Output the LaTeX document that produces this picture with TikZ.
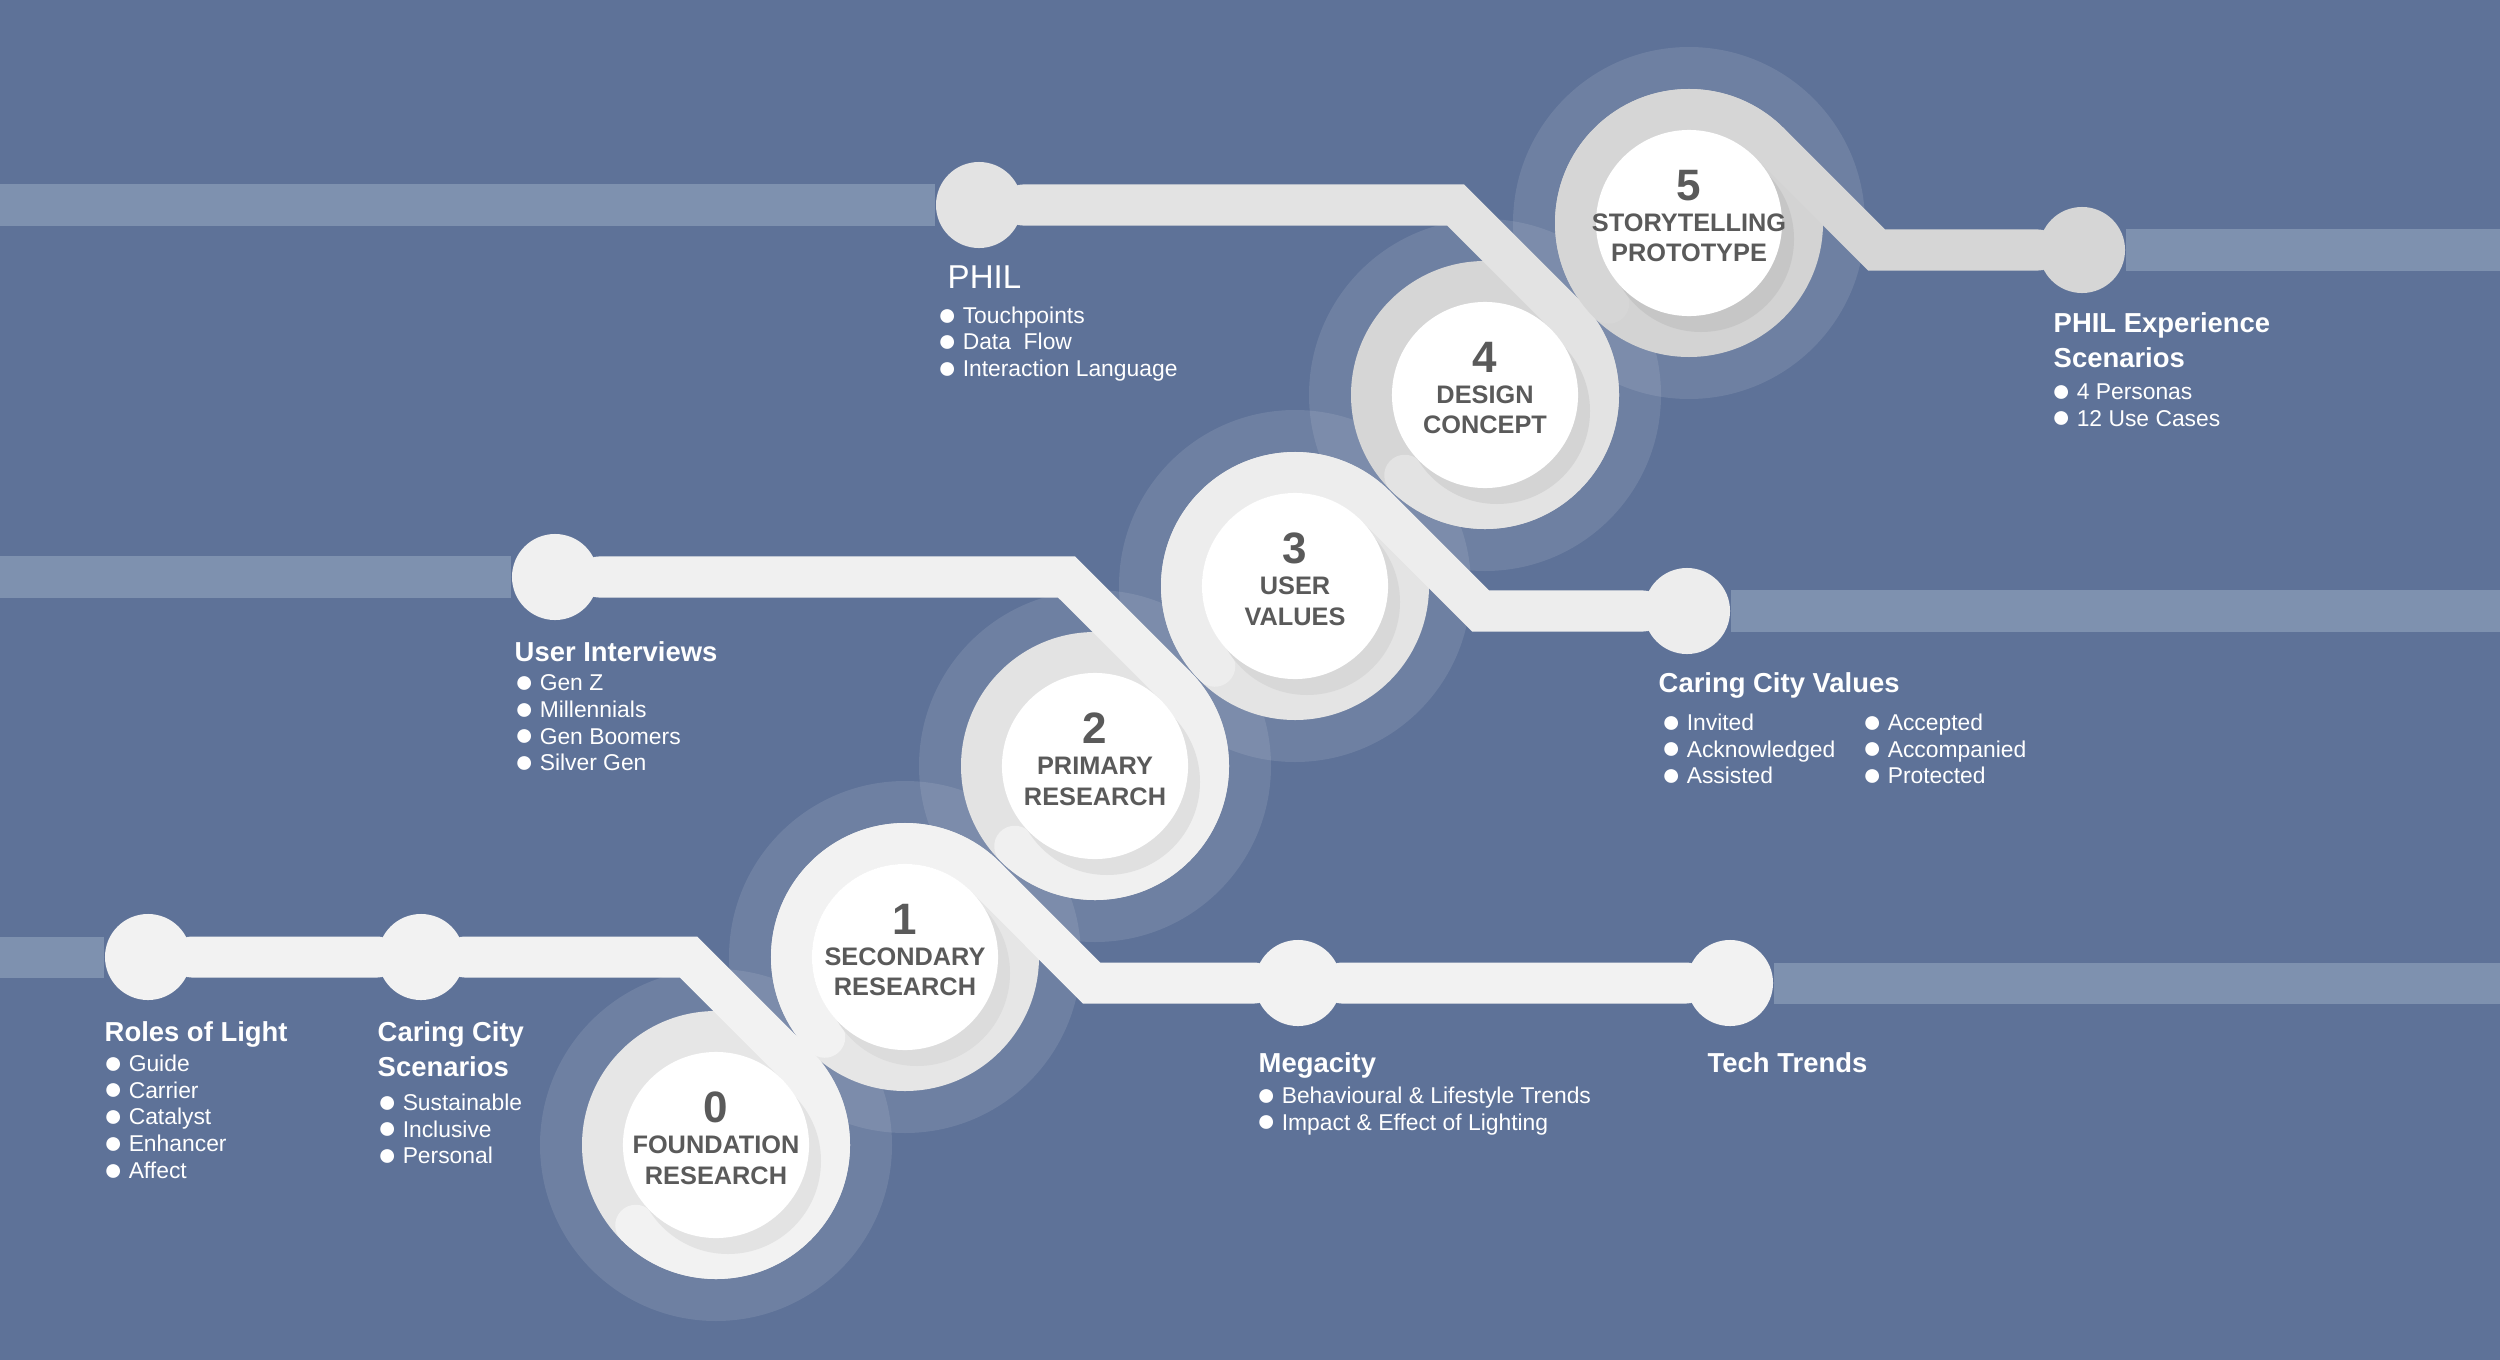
\documentclass[tikz,border=0pt]{standalone}
\usepackage{fontspec}
\usepackage{graphicx}
\setmainfont{Liberation Sans}
\usetikzlibrary{calc}

\definecolor{bgblue}{HTML}{5E7298}
\definecolor{stripeblue}{HTML}{7E91AF}
\definecolor{labelgrey}{HTML}{5A5A5A}
% belt (track) colours
\definecolor{belt0}{HTML}{F2F2F2}
\definecolor{belt1}{HTML}{F2F2F2}
\definecolor{belt2}{HTML}{F0F0F0}
\definecolor{belt3}{HTML}{EDEDED}
\definecolor{belt4}{HTML}{E3E3E3}
\definecolor{belt5}{HTML}{D6D6D6}
% ring colours
\definecolor{ring0}{HTML}{E6E6E6}
\definecolor{ring1}{HTML}{E6E6E6}
\definecolor{ring2}{HTML}{E3E3E3}
\definecolor{ring3}{HTML}{E4E4E4}
\definecolor{ring4}{HTML}{D6D6D6}
\definecolor{ring5}{HTML}{D3D3D3}
% inner shadow colours
\definecolor{shade0}{HTML}{E3E3E3}
\definecolor{shade1}{HTML}{DCDCDC}
\definecolor{shade2}{HTML}{E0E0E0}
\definecolor{shade3}{HTML}{D8D8D8}
\definecolor{shade4}{HTML}{D4D4D4}
\definecolor{shade5}{HTML}{C6C6C6}

\newcommand{\itm}{\raisebox{-0.08em}[0pt][0pt]{\scalebox{1.4}{●}}\hspace{0.25em}}

\begin{document}
\begin{tikzpicture}[x=0.01cm, y=0.01cm,
  track/.style={line width=0.41cm, line cap=round, line join=miter},
  stripe/.style={line width=0.41cm, stripeblue},
  halo/.style={fill=white, fill opacity=0.1},
  milestone/.style={circle, inner sep=0pt, minimum size=0.86cm},
  disc/.style={circle, fill=white, inner sep=0pt, minimum size=1.86cm},
  steptext/.style={align=center, text=labelgrey, font=\fontsize{7.2}{8.8}\selectfont\bfseries},
  heading/.style={anchor=north west, inner sep=0pt, text=white, align=left, font=\fontsize{7.8}{10}\selectfont\bfseries},
  itemlist/.style={anchor=north west, inner sep=0pt, text=white, align=left, font=\fontsize{6.5}{7.6}\selectfont}]
\def\rad{113.5}

\useasboundingbox (0,0) rectangle (2500,1359);
\fill[bgblue] (-5,-5) rectangle (2505,1364);

% step centres
\coordinate (c0) at (716,214);
\coordinate (c1) at (905,402);
\coordinate (c2) at (1095,593);
\coordinate (c3) at (1295,773);
\coordinate (c4) at (1485,964);
\coordinate (c5) at (1689,1136);

% bends of the tracks
\coordinate (bendA) at (688.5,402);
\coordinate (bendB) at (1091.5,376);
\coordinate (bendC) at (1066.5,782);
\coordinate (bendD) at (1480.5,748);
\coordinate (bendE) at (1455.5,1154);
\coordinate (bendF) at (1876.5,1109);

\foreach \c in {c0,c1,c2,c3,c4,c5}
  \fill[halo] (\c) circle[radius=176];

\foreach \i in {0,...,5}
  \fill[ring\i] (c\i) circle[radius=134];

% milestones
\node[milestone, fill=belt0] (roles) at (148,402) {};
\node[milestone, fill=belt0] (scen) at (421,402) {};
\node[milestone, fill=belt2] (users) at (555,782) {};
\node[milestone, fill=belt4] (phil) at (979,1154) {};
\node[milestone, fill=belt1] (mega) at (1298,376) {};
\node[milestone, fill=belt1] (tech) at (1730,376) {};
\node[milestone, fill=belt3] (values) at (1687,748) {};
\node[milestone, fill=belt5] (philexp) at (2082,1109) {};

% faded stripes
\draw[stripe] (0,402) -- (roles);
\draw[stripe] (0,782) -- (users);
\draw[stripe] (0,1154) -- (phil);
\draw[stripe] (tech) -- (2500,376);
\draw[stripe] (values) -- (2500,748);
\draw[stripe] (philexp) -- (2500,1109);

% tracks into the even steps
\draw[track, belt0] (roles) -- (scen) -- (bendA) -- ($(c0)+(45:\rad)$)
  arc[start angle=45, end angle=-135, radius=\rad];
\draw[track, belt2] (users) -- (bendC) -- ($(c2)+(45:\rad)$)
  arc[start angle=45, end angle=-135, radius=\rad];
\draw[track, belt4] (phil) -- (bendE) -- ($(c4)+(45:\rad)$)
  arc[start angle=45, end angle=-135, radius=\rad];

% tracks out of the odd steps
\draw[track, belt1] ($(c1)+(225:\rad)$) arc[start angle=225, end angle=45, radius=\rad]
  -- (bendB) -- (mega) -- (tech);
\draw[track, belt3] ($(c3)+(225:\rad)$) arc[start angle=225, end angle=45, radius=\rad]
  -- (bendD) -- (values);
\draw[track, belt5] ($(c5)+(225:\rad)$) arc[start angle=225, end angle=45, radius=\rad]
  -- (bendF) -- (philexp);

% steps
\foreach \i/\first/\second in {0/FOUNDATION/RESEARCH, 1/SECONDARY/RESEARCH,
    2/PRIMARY/RESEARCH, 3/USER/VALUES, 4/DESIGN/CONCEPT, 5/STORYTELLING/PROTOTYPE} {
  \fill[shade\i] ($(c\i)+(12,-16)$) circle[radius=93];
  \node[disc] (s\i) at (c\i) {};
  \node[steptext] at ($(s\i.center)+(0,7)$)
    {{\fontsize{12.5}{12.5}\selectfont\i}\\\first\\\second};
}

% texts
\node[heading] at (104,338) {Roles of Light};
\node[itemlist] at (103,305) {\itm Guide\\\itm Carrier\\\itm Catalyst\\\itm Enhancer\\\itm Affect};
\node[heading] at (377,338) {Caring City\\Scenarios};
\node[itemlist] at (377,266) {\itm Sustainable\\\itm Inclusive\\\itm Personal};
\node[heading] at (514,718) {User Interviews};
\node[itemlist] at (514,685) {\itm Gen Z\\\itm Millennials\\\itm Gen Boomers\\\itm Silver Gen};
\node[heading, font=\fontsize{9.4}{11}\selectfont] at (947,1094) {PHIL};
\node[itemlist] at (937,1053) {\itm Touchpoints\\\itm Data\ \ Flow\\\itm Interaction Language};
\node[heading] at (2053,1047) {PHIL Experience\\Scenarios};
\node[itemlist] at (2051,976) {\itm 4 Personas\\\itm 12 Use Cases};
\node[heading] at (1658,687) {Caring City Values};
\node[itemlist] at (1661,646) {\itm Invited\\\itm Acknowledged\\\itm Assisted};
\node[itemlist] at (1862,646) {\itm Accepted\\\itm Accompanied\\\itm Protected};
\node[heading] at (1258,307) {Megacity};
\node[itemlist] at (1256,273) {\itm Behavioural \& Lifestyle Trends\\\itm Impact \& Effect of Lighting};
\node[heading] at (1707,307) {Tech Trends};
\end{tikzpicture}
\end{document}
